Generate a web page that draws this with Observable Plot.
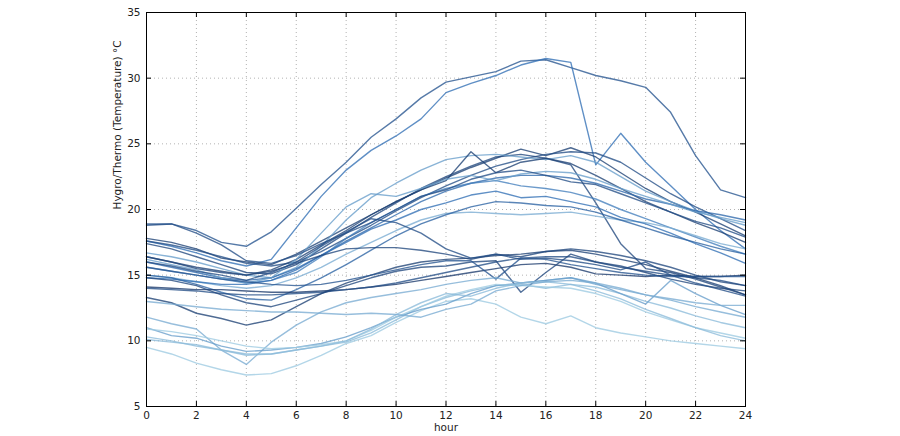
<!DOCTYPE html>
<html>
<head>
<meta charset="utf-8">
<script src="https://cdn.jsdelivr.net/npm/d3@7"></script>
<script src="https://cdn.jsdelivr.net/npm/@observablehq/plot@0.6"></script>
<style>
  html, body { margin: 0; padding: 0; background: #fff; overflow: hidden; }
  #chart svg { display: block; }
</style>
</head>
<body>
<div id="chart"></div>
<script>
// ---- data ----
const hours = [0,1,2,3,4,5,6,7,8,9,10,11,12,13,14,15,16,17,18,19,20,21,22,23,24];
const xTicks = [0,2,4,6,8,10,12,14,16,18,20,22,24];
const yTicks = [5,10,15,20,25,30,35];
const xLabel = "hour";
const yLabel = "Hygro/Thermo (Temperature) °C";

const H1  = [18.9,18.9,18.4,17.5,17.2,18.3,20.1,21.9,23.6,25.5,26.9,28.5,29.7,30.1,30.5,31.3,31.4,30.8,30.2,29.8,29.3,27.4,24.1,21.5,20.9];
const H2  = [17.6,17.2,16.7,16.1,15.7,16.2,18.6,21.0,23.0,24.5,25.6,26.9,28.9,29.6,30.2,31.0,31.5,31.2,23.4,25.8,23.6,21.8,20.0,18.4,17.0];
const W1  = [17.8,17.5,17.0,16.3,16.0,15.8,16.6,17.6,18.6,19.6,20.6,21.5,22.4,23.2,23.9,24.6,24.1,24.7,24.0,22.8,21.6,20.6,19.8,18.9,18.0];
const W2  = [17.6,17.3,16.9,16.4,15.9,15.7,16.0,16.8,17.8,18.8,19.9,20.9,21.8,22.6,23.3,23.8,24.2,24.4,24.3,23.6,22.4,21.2,20.2,19.3,18.4];
const W3  = [17.4,17.0,16.4,15.8,15.2,15.1,15.8,17.0,18.2,19.4,20.5,21.6,22.5,23.3,24.0,24.2,23.9,23.4,20.5,17.4,15.5,15.2,14.7,14.1,13.5];
const W4  = [16.7,16.4,16.0,15.5,15.0,14.8,15.6,17.2,19.2,20.9,22.0,23.0,23.8,24.1,24.2,24.0,23.8,24.1,23.6,22.5,21.4,20.6,19.9,19.3,18.8];
const W5  = [16.4,16.0,15.6,15.3,15.0,15.4,16.2,17.3,18.4,19.6,20.6,21.5,22.2,24.4,22.8,23.6,23.9,23.5,22.6,21.6,20.6,19.8,19.0,18.3,17.5];
const W6  = [16.0,15.6,15.2,14.8,14.6,14.8,15.5,16.5,17.6,18.6,19.6,20.6,21.4,22.0,22.4,22.6,22.6,22.4,22.0,21.4,20.8,20.4,19.9,19.6,19.2];
const W7  = [15.6,15.3,15.0,14.7,14.4,14.6,15.2,16.4,17.8,19.0,20.0,21.0,21.6,22.0,22.2,21.8,21.6,21.3,20.8,20.0,19.3,18.6,17.9,17.2,16.6];
const W8  = [15.0,14.8,14.5,14.2,14.0,14.2,14.8,15.6,16.6,17.5,18.4,19.2,19.7,19.8,19.7,19.6,19.7,19.8,19.5,19.2,19.0,18.6,18.0,17.4,17.0];
const W9  = [14.8,14.7,14.5,14.3,14.3,14.6,15.4,16.5,17.5,18.5,19.2,20.0,20.5,21.1,21.4,20.9,21.0,20.6,20.2,19.4,18.9,18.2,17.4,16.7,15.9];
const W10 = [16.2,15.8,15.4,14.8,14.4,14.8,16.2,18.2,20.2,21.2,21.0,21.6,22.3,22.6,22.2,22.7,22.9,22.8,22.3,21.6,21.0,20.4,19.8,19.4,19.0];
const W11 = [18.8,18.9,18.2,17.3,16.1,15.9,16.5,17.4,18.2,19.0,20.0,21.0,21.5,22.3,22.8,23.0,22.6,22.1,21.9,21.2,20.5,19.8,19.1,18.6,17.9];
const W12 = [15.0,14.8,14.3,13.7,13.2,13.1,13.9,14.8,15.8,16.9,18.0,18.9,19.6,20.2,20.6,20.5,20.3,20.2,19.8,19.2,18.6,18.0,17.5,17.0,16.6];
const M1  = [14.1,14.0,13.9,13.9,13.8,13.7,13.7,13.8,13.9,14.1,14.3,14.6,14.9,15.2,15.5,15.8,15.9,15.6,15.1,15.0,14.9,15.0,14.9,14.9,15.0];
const M2  = [14.0,13.9,13.8,13.6,13.5,13.5,13.6,13.7,13.9,14.1,14.4,14.8,15.2,15.6,16.0,16.3,16.4,16.4,16.0,15.6,15.3,15.0,14.8,14.6,14.2];
const M3  = [13.3,12.9,12.1,11.7,11.2,11.6,12.6,13.6,14.4,15.0,15.6,16.0,16.2,16.3,16.5,16.6,16.8,16.9,16.6,16.2,15.8,15.3,14.8,14.2,13.5];
const M4  = [14.8,14.6,14.2,13.5,12.9,12.6,13.1,13.6,14.2,14.8,15.3,15.6,15.7,16.0,16.1,13.7,15.2,16.6,16.0,15.7,15.2,14.7,14.3,14.0,13.8];
const M5  = [15.6,15.3,15.0,14.7,14.5,14.3,14.2,14.3,14.6,15.0,15.4,15.8,16.1,16.1,14.7,16.3,16.2,15.8,15.5,15.2,15.0,14.9,14.9,14.9,14.9];
const M6  = [16.4,16.0,15.5,15.2,15.0,15.3,15.9,16.5,17.0,17.1,17.1,16.9,16.6,16.2,16.6,16.4,16.8,17.0,16.8,16.5,16.1,15.6,15.0,14.5,14.2];
const M7  = [16.0,15.7,15.3,15.0,14.6,15.2,16.0,17.2,18.3,19.3,19.0,18.2,17.0,16.3,16.6,16.2,16.3,16.1,15.8,15.4,16.0,15.0,14.4,13.9,13.4];
const C1  = [11.8,11.3,10.9,9.3,8.2,9.9,11.2,12.2,12.9,13.3,13.6,13.9,14.3,14.6,14.8,14.4,14.6,14.8,14.3,13.9,13.5,13.1,12.6,12.2,11.8];
const C2  = [9.5,9.0,8.3,7.8,7.4,7.5,8.1,8.9,9.8,10.4,11.4,12.3,13.0,13.2,12.8,11.8,11.3,11.9,11.0,10.6,10.3,10.0,9.8,9.6,9.4];
const C3  = [10.3,10.0,9.6,9.3,9.0,9.0,9.3,9.6,9.9,10.6,11.6,12.6,13.3,13.8,14.2,14.3,14.0,14.3,14.1,13.6,13.0,12.5,11.9,11.4,11.0];
const C4  = [11.0,10.4,10.2,9.6,9.2,9.3,9.5,9.8,10.3,11.0,11.8,12.4,12.8,13.6,14.2,14.4,14.6,14.8,14.4,13.6,12.8,14.6,13.6,12.7,12.0];
const C5  = [10.9,10.7,10.4,10.0,9.6,9.4,9.5,9.7,10.0,10.8,11.8,12.6,13.4,13.9,14.3,14.2,14.1,14.0,13.6,13.0,12.2,11.6,11.0,10.6,10.2];
const C6  = [10.1,9.9,9.7,9.3,8.9,9.0,9.3,9.6,10.0,10.9,12.0,12.9,13.6,13.4,14.0,14.4,14.5,14.3,13.8,13.2,12.4,11.7,11.0,10.4,10.0];
const C7  = [13.0,12.8,12.6,12.4,12.3,12.2,12.2,12.1,12.0,12.1,12.0,11.8,12.4,12.8,13.8,14.2,14.5,14.6,14.4,14.0,13.5,13.2,12.9,12.7,12.7];

const seriesNames  = ["H1","H2","W1","W2","W3","W4","W5","W6","W7","W8","W9","W10","W11","W12","M1","M2","M3","M4","M5","M6","M7","C1","C2","C3","C4","C5","C6","C7"];
const seriesValues = [H1,H2,W1,W2,W3,W4,W5,W6,W7,W8,W9,W10,W11,W12,M1,M2,M3,M4,M5,M6,M7,C1,C2,C3,C4,C5,C6,C7];
const seriesShade  = [0.8,0.6,0.95,0.85,0.9,0.45,0.95,0.65,0.55,0.4,0.6,0.45,0.85,0.7,1.0,0.85,0.95,0.9,0.8,0.9,0.85,0.4,0.3,0.35,0.45,0.3,0.35,0.4];

// ---- table for the library ----
const rows = [];
seriesNames.forEach((name, i) => {
  seriesValues[i].forEach((t, j) => rows.push({name, shade: seriesShade[i], hour: hours[j], temp: t}));
});

const chart = Plot.plot({
  width: 900,
  height: 436,
  marginLeft: 146,
  marginRight: 155,
  marginTop: 12,
  marginBottom: 30,
  style: {fontFamily: "DejaVu Sans, sans-serif", fontSize: "10.5px", color: "#222", background: "#fff"},
  x: {domain: [0, 24]},
  y: {domain: [5, 35]},
  color: {type: "linear", domain: [0.3, 0.6, 1.0], range: ["#9ecae1", "#3270b5", "#1b3a6b"], clamp: true},
  marks: [
    Plot.gridX(xTicks, {stroke: "#000", strokeOpacity: 0.3, strokeDasharray: "1,3"}),
    Plot.gridY(yTicks, {stroke: "#000", strokeOpacity: 0.3, strokeDasharray: "1,3"}),
    Plot.line(rows, {x: "hour", y: "temp", z: "name", stroke: "shade", strokeWidth: 1.4, strokeOpacity: 0.78}),
    Plot.tickX(xTicks, {x: d => d, stroke: "#000", insetTop: 389}),
    Plot.tickX(xTicks, {x: d => d, stroke: "#000", insetBottom: 389}),
    Plot.tickY(yTicks, {y: d => d, stroke: "#000", insetRight: 594}),
    Plot.tickY(yTicks, {y: d => d, stroke: "#000", insetLeft: 594}),
    Plot.frame({stroke: "#000"}),
    Plot.axisX(xTicks, {tickSize: 0, tickPadding: 5, label: null}),
    Plot.axisY(yTicks, {tickSize: 0, tickPadding: 6, label: null}),
    Plot.text([xLabel], {frameAnchor: "bottom", dy: 24, text: d => d, fontSize: 10.5}),
    Plot.text([yLabel], {frameAnchor: "left", dx: -29, rotate: -90, text: d => d, fontSize: 10.5})
  ]
});
document.getElementById("chart").append(chart);
</script>
</body>
</html>
